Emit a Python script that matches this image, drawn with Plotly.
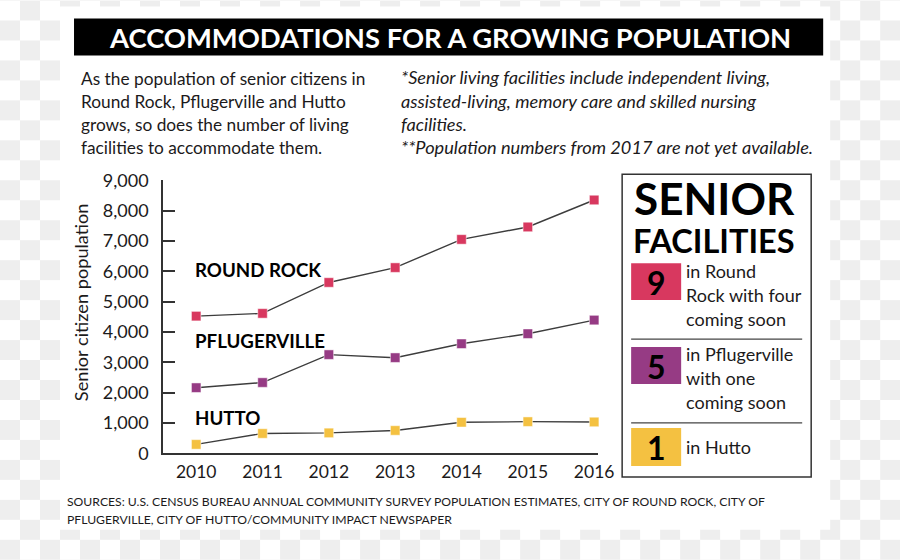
import plotly.graph_objects as go

W, H = 900, 560

years = [2010, 2011, 2012, 2013, 2014, 2015, 2016]
round_rock = [4520, 4610, 5630, 6120, 7050, 7460, 8350]
pflugerville = [2160, 2330, 3250, 3150, 3610, 3940, 4390]
hutto = [290, 650, 670, 750, 1020, 1040, 1030]

series_names = ["ROUND ROCK", "PFLUGERVILLE", "HUTTO"]
series_colors = ["#d8385f", "#963b84", "#f4c141"]
y_ticks = [0, 1000, 2000, 3000, 4000, 5000, 6000, 7000, 8000, 9000]

facility_counts = ["9", "5", "1"]
facility_texts = [
    ["in Round", "Rock with four", "coming soon"],
    ["in Pflugerville", "with one", "coming soon"],
    ["in Hutto"],
]

title_text = "ACCOMMODATIONS FOR A GROWING POPULATION"
intro_lines = [
    "As the population of senior citizens in",
    "Round Rock, Pflugerville and Hutto",
    "grows, so does the number of living",
    "facilities to accommodate them.",
]
note_lines = [
    "*Senior living facilities include independent living,",
    "assisted-living, memory care and skilled nursing",
    "facilities.",
    "**Population numbers from 2017 are not yet available.",
]
source_lines = [
    "SOURCES: U.S. CENSUS BUREAU ANNUAL COMMUNITY SURVEY POPULATION ESTIMATES, CITY OF ROUND ROCK, CITY OF",
    "PFLUGERVILLE, CITY OF HUTTO/COMMUNITY IMPACT NEWSPAPER",
]

# mapping from target picture pixels to page paper fractions
SX, SY, OY = 0.982, 0.962, 11.5


def px(x):
    return (x / SX) / W


def py(y):
    return 1 - ((y - OY) / SY) / H


FONT = "Lato"
TXT = "#1c1a1b"
shapes = []
annotations = []

# checkerboard background (outside white panel)
PL, PT, PR, PB = 60, 6, 830, 530
for i in range(0, W // 20 + 2):
    for j in range(-1, H // 20 + 2):
        if (i + j) % 2 == 1:
            x0, y0, x1, y1 = i * 20, j * 20, i * 20 + 20, j * 20 + 20
            if x0 >= PL and x1 <= PR and y0 >= PT and y1 <= PB:
                continue
            shapes.append(dict(type="rect", xref="paper", yref="paper",
                               x0=px(x0), x1=px(x1), y0=py(y1), y1=py(y0),
                               fillcolor="#eeeeee", line=dict(width=0), layer="below"))
shapes.append(dict(type="rect", xref="paper", yref="paper",
                   x0=px(PL), x1=px(PR), y0=py(PB), y1=py(PT),
                   fillcolor="white", line=dict(width=0), layer="below"))

# title bar
shapes.append(dict(type="rect", xref="paper", yref="paper",
                   x0=px(74), x1=px(823), y0=py(55), y1=py(18),
                   fillcolor="black", line=dict(width=0), layer="below"))
annotations.append(dict(text=title_text, x=px(449.5), y=py(37), xref="paper", yref="paper",
                        xanchor="center", yanchor="middle", showarrow=False,
                        font=dict(family=FONT, size=27.4, color="white", weight="bold")))

for k, line in enumerate(intro_lines):
    annotations.append(dict(text=line, x=px(79), y=py(78 + k * 23.2), xref="paper", yref="paper",
                            xanchor="left", yanchor="middle", showarrow=False,
                            font=dict(family=FONT, size=17.3, color=TXT)))
for k, line in enumerate(note_lines):
    annotations.append(dict(text="<i>" + line + "</i>", x=px(399), y=py(77 + k * 23.2), xref="paper", yref="paper",
                            xanchor="left", yanchor="middle", showarrow=False,
                            font=dict(family=FONT, size=18.2, color=TXT)))

for k, line in enumerate(source_lines):
    annotations.append(dict(text=line, x=px(65), y=py(502 + k * 18), xref="paper", yref="paper",
                            xanchor="left", yanchor="middle", showarrow=False,
                            font=dict(family=FONT, size=12.2, color=TXT)))

# series labels
label_y = [270, 341, 418]
for name, ly in zip(series_names, label_y):
    annotations.append(dict(text="<b>" + name + "</b>", x=px(193), y=py(ly), xref="paper", yref="paper",
                            xanchor="left", yanchor="middle", showarrow=False,
                            font=dict(family=FONT, size=18.7, color="black", weight=900)))

# y axis title
annotations.append(dict(text="Senior citizen population", x=px(81), y=py(302), xref="paper", yref="paper",
                        xanchor="center", yanchor="middle", showarrow=False, textangle=-90,
                        font=dict(family=FONT, size=18.2, color=TXT)))

# senior facilities box
shapes.append(dict(type="rect", xref="paper", yref="paper",
                   x0=px(622), x1=px(811), y0=py(477), y1=py(174),
                   fillcolor="rgba(0,0,0,0)", line=dict(width=1.5, color="#333333")))
annotations.append(dict(text="<b>SENIOR</b>", x=px(714), y=py(198), xref="paper", yref="paper",
                        xanchor="center", yanchor="middle", showarrow=False,
                        font=dict(family=FONT, size=44, color="black", weight=900)))
annotations.append(dict(text="<b>FACILITIES</b>", x=px(714), y=py(240.5), xref="paper", yref="paper",
                        xanchor="center", yanchor="middle", showarrow=False,
                        font=dict(family=FONT, size=32.5, color="black", weight=900)))

box_tops = [263, 347, 428]
box_bottoms = [300, 384, 466]
text_starts = [270.5, 354, 447]
for idx in range(3):
    shapes.append(dict(type="rect", xref="paper", yref="paper",
                       x0=px(631), x1=px(681), y0=py(box_bottoms[idx]), y1=py(box_tops[idx]),
                       fillcolor=series_colors[idx], line=dict(width=0)))
    annotations.append(dict(text="<b>" + facility_counts[idx] + "</b>", x=px(656),
                            y=py((box_tops[idx] + box_bottoms[idx]) / 2 + 1), xref="paper", yref="paper",
                            xanchor="center", yanchor="middle", showarrow=False,
                            font=dict(family=FONT, size=32, color="black", weight=900)))
    for k, line in enumerate(facility_texts[idx]):
        annotations.append(dict(text=line, x=px(684), y=py(text_starts[idx] + k * 24), xref="paper", yref="paper",
                                xanchor="left", yanchor="middle", showarrow=False,
                                font=dict(family=FONT, size=18, color=TXT)))
for sy in [339, 423]:
    shapes.append(dict(type="line", xref="paper", yref="paper",
                       x0=px(631), x1=px(802), y0=py(sy), y1=py(sy),
                       line=dict(width=1.2, color="#444444")))

fig = go.Figure()
for vals, color in zip([round_rock, pflugerville, hutto], series_colors):
    fig.add_trace(go.Scatter(
        x=years, y=vals, mode="lines+markers",
        line=dict(color="#3d3d3d", width=1.4),
        marker=dict(symbol="square", size=9.5, color=color, line=dict(color="rgba(255,255,255,0.6)", width=0.8)),
        hoverinfo="skip", showlegend=False, cliponaxis=False,
    ))

fig.update_layout(
    width=W, height=H,
    margin=dict(l=0, r=0, t=0, b=0),
    paper_bgcolor="white",
    plot_bgcolor="rgba(0,0,0,0)",
    shapes=shapes,
    annotations=annotations,
    showlegend=False,
    xaxis=dict(
        domain=[px(163), px(598)],
        range=[2009.5, 2016.06],
        tickmode="array", tickvals=years, ticktext=[str(y) for y in years],
        showgrid=False, zeroline=False, showline=True, linecolor="#333333", linewidth=1.5,
        ticks="", tickfont=dict(family=FONT, size=17.5, color=TXT),
        ticklabelstandoff=2,
    ),
    yaxis=dict(
        domain=[py(453.3), py(180)],
        range=[0, 9000],
        tickmode="array", tickvals=y_ticks, ticktext=[f"{v:,}" for v in y_ticks],
        showgrid=False, zeroline=False, showline=True, linecolor="#333333", linewidth=1.5,
        ticks="inside", ticklen=12, tickwidth=1.5, tickcolor="#333333",
        tickfont=dict(family=FONT, size=18, color=TXT),
        ticklabelstandoff=9,
    ),
)

fig.write_html(
    "out.html",
    config={"displayModeBar": False},
    post_script="document.body.style.margin='0';document.body.style.overflow='hidden';",
)
